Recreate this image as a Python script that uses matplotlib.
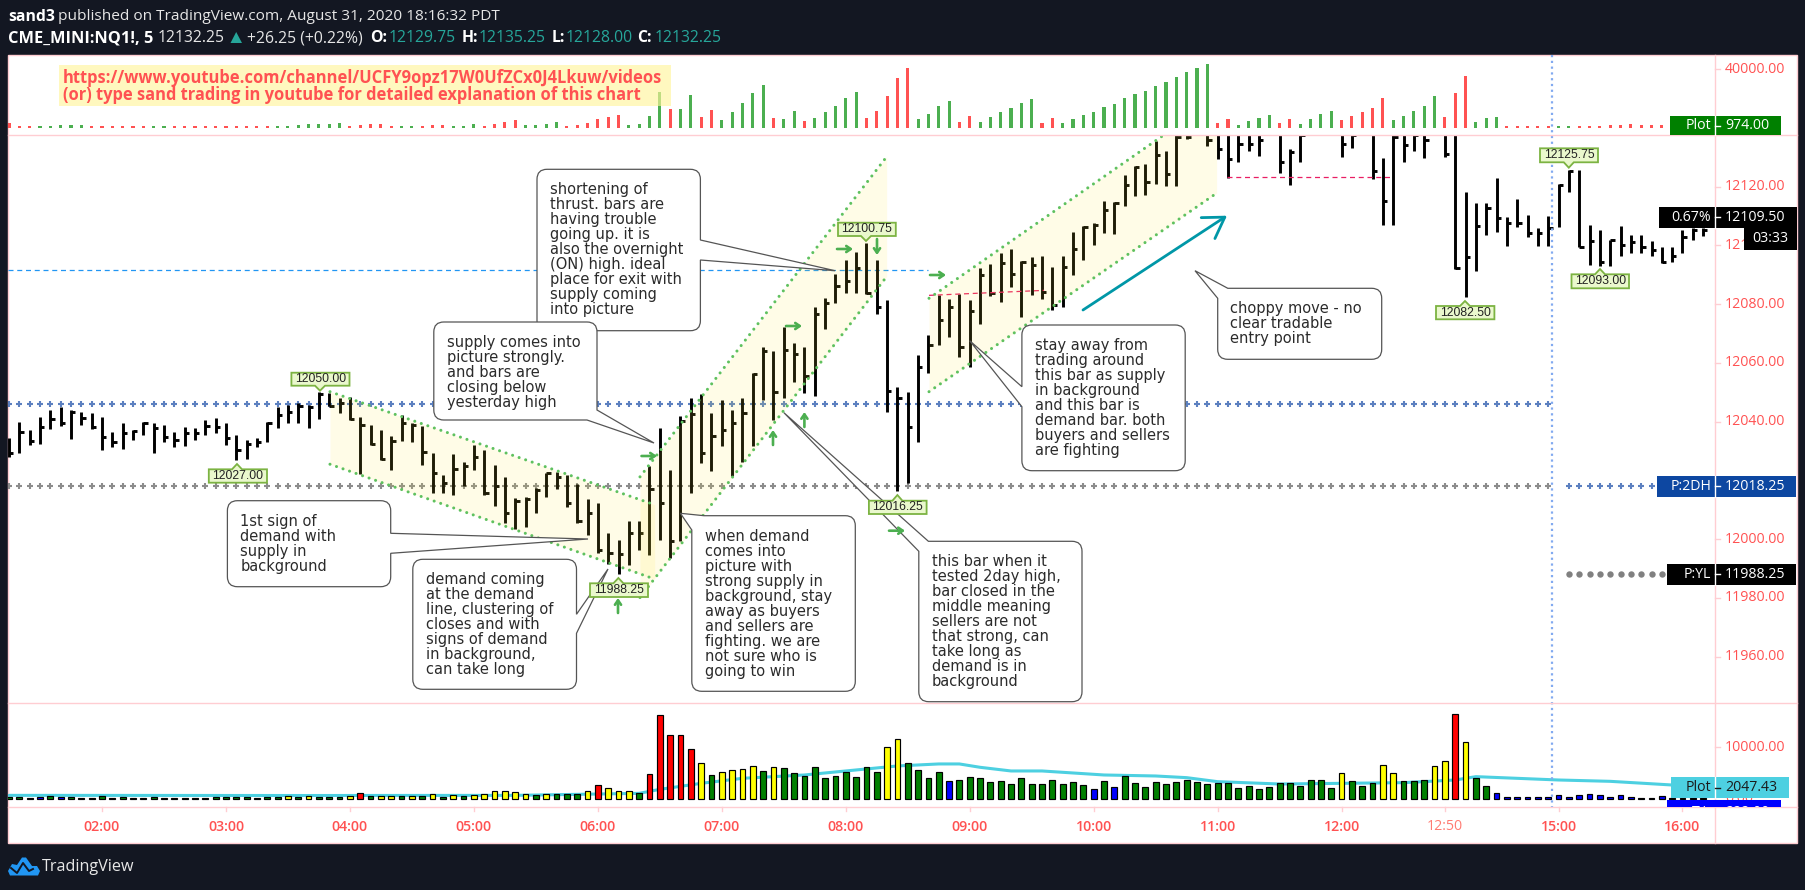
import matplotlib
matplotlib.use("Agg")
import matplotlib.pyplot as plt
from matplotlib.patches import Rectangle, Polygon, PathPatch
from matplotlib.path import Path

W, H = 1805, 890
DARK = "#131722"; PINK = "#ffcdd2"; RED = "#ff5252"; TEAL = "#26a69a"
NUM = "Open Sans"

first_bar = -9
highs = [12034.3,12040.0,12037.2,12041.7,12044,12045.1,12044,12043.4,12042.8,12041.7,
 12036.6,12039.4,12037.2,12040,12039.4,12038.9,12036.6,12038.3,12037.7,12040.6,
 12041.1,12039.7,12035.5,12033.8,12034.3,12040,12045.1,12045.7,12046.3,12045.7,
 12050,12049.75,12048,12048.5,12041.7,12038.9,12037.2,12035.1,12042.1,12039.4,
 12038.6,12029.2,12021.9,12029,12026.4,12032.1,12030.4,12025.3,12021.1,12013.9,
 12014.5,12017.3,12022.6,12023,12021.9,12018.8,12013.6,12012.4,12002,11999.7,
 12006,12006,12024.9,12037.7,12023.6,12041.9,12048,12049.3,12042.8,12047.2,
 12043.8,12048,12056.5,12065.5,12064.2,12072.3,12066.7,12065.3,12078.9,12082.2,
 12090.3,12095,12097.8,12100.75,12095,12081.4,12051.7,12050.2,12062.7,12069.5,
 12083.1,12081.7,12083.5,12081.4,12092.2,12093.6,12097.3,12098.7,12094.7,12096.2,
 12096.5,12092.5,12096.5,12104.7,12106.6,12107.5,12115.2,12114.9,12124,12127,
 12127.6,12135.6,12132.3,12141,12142,12150,12145,12142,12140,12141,
 12143,12142,12150,12141,12132.7,12142,12150,12150,12150,12143,
 12143,12150,12142,12129.6,12137.5,12142,12143,12142,12150,12142,
 12141,12118.3,12114.6,12114.6,12123.1,12109.8,12115.7,12110.3,12105.8,12110,
 12120.9,12125.75,12125.75,12106.9,12105.2,12102,12106.6,12103.7,12103.5,12101.5,
 12099.5,12099.3,12105.2,12105.8,12106]
lows = [12027.9,12029.2,12032.1,12032.4,12037.4,12038.6,12034,12038.9,12037.4,12030.4,
 12031.3,12030.6,12033.8,12035.5,12029.2,12033.2,12031.3,12031.7,12033.8,12035.5,
 12036.3,12032.1,12027,12027.2,12031.3,12032.9,12037.7,12039.7,12039.7,12037.7,
 12040.8,12045.3,12042.8,12040.6,12022.2,12032.1,12027,12023.6,12033.5,12033.2,
 12025.3,12015.6,12015.8,12014.9,12018.1,12023.6,12015,12011.3,12005.6,12003.4,
 12004,12009,12014.3,12017,12011.1,12005.6,12001.4,11995.4,11991.6,11988.25,
 11991.2,11996.3,11994.6,11999.7,11993.6,11999.2,12015.8,12025.8,12023.3,12031.7,
 12021.5,12026.4,12031.7,12047.4,12040.6,12048.2,12053.6,12049.7,12048.7,12071.6,
 12080.5,12083.7,12083.7,12083.4,12076.5,12043.4,12016.25,12019,12032.9,12056.7,
 12066.1,12068.9,12062.1,12058.5,12073.3,12082.9,12080.9,12086,12075.8,12083.1,
 12081.7,12078,12079.2,12089.9,12095,12100.2,12104.1,12103.9,12113.4,12116.9,
 12117.2,12120.9,12120.3,12120.3,12136.1,12139,12133.8,12129.3,12123.1,12128.5,
 12132.2,12130.4,12139,12124.7,12120.7,12128.5,12139,12139,12139,12130.2,
 12133.2,12139,12122.7,12107.1,12107.1,12128.5,12132.2,12129.9,12139,12130,
 12091.9,12082.5,12091.4,12103.6,12104.7,12099.9,12106.4,12102.9,12099.9,12099.9,
 12106.4,12118.3,12099.3,12093.3,12093,12093.1,12096.4,12097.3,12097.3,12096.5,
 12094.1,12094.4,12097.3,12101.8,12103.3]
closes = [12029.2,12036.6,12033.5,12038.3,12040.8,12039.4,12043.4,12041.1,12038.1,12034.9,
 12033.2,12036,12036.9,12039.4,12037.7,12034.9,12033.8,12036,12036.3,12038.5,
 12038.3,12034.3,12030.4,12032.4,12033.2,12039.4,12042.3,12043.4,12045.3,12045.1,
 12049.4,12045.3,12046.5,12040.8,12038.9,12032.4,12027.2,12033.5,12039.4,12038.9,
 12029.5,12022.4,12019,12023.8,12024.9,12028.1,12015.8,12018.1,12009,12013.1,
 12013.6,12016.7,12022.4,12021.3,12012.4,12006.3,12008.8,11996.3,11995.2,11995,
 12002.2,12002.2,12017,12012.2,11999.4,12040.3,12042.6,12029.3,12035.1,12037.2,
 12039.4,12043.1,12056.3,12064.2,12050.2,12064.4,12063,12055.6,12076.7,12080.5,
 12086.2,12088,12092.2,12083.7,12078.9,12050.4,12048,12038.1,12058.5,12066.1,
 12074.6,12078.9,12065.5,12077.8,12089.9,12083.7,12093.9,12090.3,12094.2,12093.3,
 12084.3,12079.7,12092.5,12098.7,12106.4,12107,12112.1,12114.6,12120.6,12126.6,
 12121.7,12130.8,12124.2,12136.8,12137,12141,12136,12133,12129.3,12134.7,
 12134.7,12136,12141,12128.5,12131.9,12137.5,12141,12141,12141,12134.7,
 12137.5,12141,12125.3,12115.1,12137,12134.2,12137.5,12136,12141,12131.1,
 12092.2,12096.1,12106.6,12112.6,12109.2,12107.5,12107.8,12104.1,12104.1,12105.8,
 12120.5,12125.4,12099.5,12101.5,12094.4,12101.8,12100.1,12101.2,12099.5,12098.4,
 12094.4,12096.4,12102.9,12105.2,12105.2]
deltas = [-2760,-460,-460,690,920,1380,1380,1380,-460,-460,
 -920,-460,-460,-460,920,460,-460,-460,-460,-460,
 -460,-460,-460,-1150,-460,-460,920,920,1610,2300,
 2300,2300,2990,-460,-1610,-2300,-2300,-460,920,690,
 -690,-1380,-1380,920,920,2300,-1150,-2300,-3680,-5060,
 1380,1380,2300,3680,-1150,-1840,-2990,-5750,-7360,-8740,
 1610,2300,7820,24380,-12650,12650,22310,-7360,-11960,5060,
 10580,16560,23920,29210,-6440,5520,11270,-4370,6440,10580,
 14720,20240,24380,-6440,-11270,-21620,-34040,-40940,5750,9200,
 14720,18170,-3680,-7820,3680,7130,10580,13340,16790,19550,
 -2990,-6440,2990,5750,8510,10580,14030,16100,20240,23000,
 25070,28520,31280,34730,38180,40940,43700,-2990,-5750,1610,
 4370,6440,8510,-2990,-5750,2300,5750,9200,11270,-5060,
 -7820,-10580,-13340,-20240,5060,7820,11270,14720,21620,-7130,
 -23690,-35420,3680,6440,7130,-460,-690,-690,-460,-460,
 920,690,-920,-920,-1150,-1610,-1840,-2070,-1840,-1840,
 -1840,-1840,-2070,-2070,-974]
volumes = [260,390,195,390,585,325,390,195,195,585,
 195,325,195,195,390,195,195,195,195,195,
 325,325,325,325,195,325,325,585,390,585,
 325,325,325,520,1170,585,520,520,585,585,
 520,975,390,780,520,715,975,1430,1560,1365,
 975,780,975,975,975,975,1560,2730,2145,1560,
 1560,1170,4875,16250,12480,12350,9750,7020,4680,5265,
 5655,5850,6435,5460,6240,6045,5070,4485,6240,4095,
 4485,5265,4290,6240,5265,10140,11700,6890,5525,3965,
 5135,3380,3575,4160,3965,3185,3380,2795,3965,2795,
 2795,3575,2795,3185,2600,1820,3380,2210,4355,2990,
 2210,3185,2795,3185,3575,3185,2795,2990,2990,2015,
 2405,1820,2210,2990,2990,2405,3575,3575,2015,4940,
 3380,2405,2990,6500,4940,3380,3380,3575,6305,7280,
 16445,10985,3965,2405,1040,390,390,390,390,390,
 650,390,780,845,650,390,650,390,195,195,
 455,195,195,195,195]
vol_colors = ("gggbgbgggg" "gggggggggg" "gggggggygy" "gggyrgyygy" "gygygyyyyy"
 "ygygggyryy" "ygrrrrrygy" "yyygyggggg" "gggggyyggg" "gbgggggggg"
 "gggggbgbgg" "gggggggggg" "gggggggggy" "gggyygggyy"
 "ryggbbbbbb" "bbbbbbbbbb" "bbbbb")
vol_palette = {"g": "#008000", "y": "#ffff00", "r": "#ff0000", "b": "#0000ff"}
ma_index = [-9,20,40,46,52,54,58,62,68,77,81,83,85,88,91,97,102,105,108,114,120,126,131,133,141,146,152,155]
ma_value = [650,620,650,845,1040,1820,2990,3965,4615,6370,6760,6760,6110,5395,5395,4615,4420,4095,3315,2860,2990,3120,3640,4290,3640,3380,2665,2470]

price_ticks = [12120,12100,12080,12060,12040,12000,11980,11960]
time_ticks = [0,12,24,36,48,60,72,84,96,108,120,130,141,153]
time_labels = ["02:00","03:00","04:00","05:00","06:00","07:00","08:00","09:00","10:00","11:00","12:00","12:50","15:00","16:00"]
level_2dh_prev, level_2dh, level_yh, level_yl = 12046.1, 12018.25, 12018.25, 11988.25
level_on_high = 12091.5

channel_down = ((22.07, 53.5), (12050.2, 12011.7), (12025.5, 11986.4))
channel_up = ((52.08, 75.96), (12021.2, 12130.2), (11980.1, 12089.4))
channel_up2 = ((80.06, 107.9), (12082, 12150.1), (12050.2, 12117.8))

callouts = [
 (537,169.3,700.4,330.7,"right",(240,260),(835,270.7),
  ["shortening of","thrust. bars are","having trouble","going up. it is","also the overnight","(ON) high. ideal","place for exit with","supply coming","into picture"]),
 (433.8,322,597,420,"br",(410,587),(654,443),
  ["supply comes into","picture strongly.","and bars are","closing below","yesterday high"]),
 (227.4,500.7,390.7,586.7,"right",(533.3,553.3),(588,539),
  ["1st sign of","demand with","supply in","background"]),
 (412.8,559.3,576.5,689.3,"right",(614.3,633.3),(608,569),
  ["demand coming","at the demand","line, clustering of","closes and with","signs of demand","in background,","can take long"]),
 (691.8,515.7,855.3,691.3,"tl",(530,704),(680.4,513.3),
  ["when demand","comes into","picture with","strong supply in","background, stay","away as buyers","and sellers are","fighting. we are","not sure who is","going to win"]),
 (918.8,541.3,1082,701.7,"tl",(551.3,928.4),(783.9,412.7),
  ["this bar when it","tested 2day high,","bar closed in the","middle meaning","sellers are not","that strong, can","take long as","demand is in","background"]),
 (1021.9,325,1185.2,470.7,"left",(386.7,406.7),(969.7,340.7),
  ["stay away from","trading around","this bar as supply","in background","and this bar is","demand bar. both","buyers and sellers","are fighting"]),
 (1217.7,288.3,1381.7,359.3,"tl",(298.3,1227.8),(1195,270.7),
  ["choppy move - no","clear tradable","entry point"]),
]
price_tags = [("12050.00",291.4,349.5,372.7,385.7,320,390.7),("12027.00",208.8,267,469.3,482.7,237,464),
 ("11988.25",590,648,583.3,597,618.4,578),("12100.75",838,895.8,222.7,236,866,241),
 ("12016.25",868.9,926.6,500.7,514,897.4,495),("12125.75",1540,1598,148.3,162.3,1568.8,167.7),
 ("12093.00",1571.5,1629,274.3,288.3,1600,269),("12082.50",1436,1494.4,306,319.3,1465,301)]
green_arrows = [(641.5,456,657,456),(837,249,853,249),(786,326,802,326),(930,275,946,275),(889,530.7,905,530.7),
 (773,445,773,430),(804.4,427,804.4,412),(618,613,618,598),(877,239,877,255)]

fig = plt.figure(figsize=(W/100, H/100), dpi=100, facecolor=DARK)

def pane(top, bottom, z=1, right=1714.6, left=8):
    return fig.add_axes([left/W, 1-bottom/H, (right-left)/W, (bottom-top)/H], zorder=z)

bg = fig.add_axes([0,0,1,1], zorder=0); bg.set_xlim(0,W); bg.set_ylim(H,0); bg.axis("off")
bg.add_patch(Rectangle((8,55),1789,788,fc="white",ec=PINK,lw=1))

idx = list(range(first_bar, first_bar+len(highs)))
XLIM = ((8-102)/10.33, (1714.6-102)/10.33)

ax_top = pane(55,135); ax_main = pane(135,703); ax_vol = pane(703,807)
for a in (ax_top,ax_main,ax_vol):
    a.set_xlim(*XLIM); a.patch.set_alpha(0)
    a.set_xticks([]); a.set_yticks([])
    for s in a.spines.values(): s.set_visible(False)
ax_top.set_ylim(-5310,49862)
ax_main.set_ylim(11944.2,12137.6)
ax_vol.set_ylim(-1615,18619)

# top histogram: tiny bars keep a visible minimum height, as the reference does
ax_top.bar(idx,[max(abs(d),1000)+500 for d in deltas],bottom=-500,width=0.3,
           color=["#4caf50" if d>0 else RED for d in deltas],linewidth=0)

# price bars (high / low / close)
ax_main.vlines(idx,lows,highs,color="black",lw=2.1,zorder=3)
ax_main.hlines(closes,idx,[i+0.42 for i in idx],color="black",lw=2.1,zorder=3)

# levels
left_pts = list(range(-9,141))
ax_main.plot(left_pts,[level_2dh_prev]*len(left_pts),ls="",marker="+",ms=5,mew=1.5,color="#5c80c0",zorder=2)
ax_main.plot(left_pts,[level_yh]*len(left_pts),ls="",marker="+",ms=5,mew=1.5,color="#8c8c8c",zorder=2)
ax_main.plot(range(142,151),[level_2dh]*9,ls="",marker="+",ms=5,mew=1.5,color="#5c80c0",zorder=2)
ax_main.plot(range(142,152),[level_yl]*10,ls="",marker="o",ms=4.6,mew=0,color="#808080",zorder=2)
ax_main.plot([XLIM[0],80],[level_on_high]*2,color="#2196f3",lw=0.9,dashes=(4,3),zorder=2)
ax_main.plot([80.06,91.2],[12083,12084.7],color="#e91e63",lw=0.9,dashes=(4,3),zorder=4)
ax_main.plot([108.9,125],[12123.2,12123.2],color="#e91e63",lw=0.9,dashes=(4,3),zorder=4)

# channels
for xs,top,bot in (channel_down,channel_up,channel_up2):
    ax_main.fill_between(xs,bot,top,color="#ffeb3b",alpha=0.12,lw=0,zorder=5)
    for ys in (top,bot):
        ax_main.plot(xs,ys,color="#5fc15f",lw=2.2,dashes=(0.01,2.25),dash_capstyle="round",zorder=6)

# volume
ax_vol.plot(ma_index,ma_value,color="#4dd0e1",lw=2.2,zorder=1,solid_capstyle="round")
ax_vol.bar(idx,volumes,width=0.56,color=[vol_palette[c] for c in vol_colors],edgecolor="black",linewidth=0.85,zorder=2)

# overlay in pixel space for annotations
ov = fig.add_axes([0,0,1,1], zorder=5); ov.set_xlim(0,W); ov.set_ylim(H,0); ov.axis("off"); ov.patch.set_alpha(0)

ov.plot([1552,1552],[55,807],color="#82aaf0",lw=1.6,dashes=(1,1.6),zorder=1)
for y in (135,703,807):
    ov.plot([8,1797],[y,y],color=PINK,lw=1,zorder=1)
ov.plot([1714.6,1714.6],[55,843],color=PINK,lw=1,zorder=1)

def ty(p): return 186.7+(12120-p)*2.9375
for p in price_ticks:
    ov.plot([1714.6,1720],[ty(p)]*2,color=PINK,lw=1,zorder=1)
    ov.text(1725,ty(p),f"{p:.2f}",color=RED,fontsize=10.2,family=NUM,va="center",ha="left",zorder=2)
for lab,y in (("40000.00",69.3),("10000.00",747.3)):
    ov.plot([1714.6,1720],[y,y],color=PINK,lw=1,zorder=1)
    ov.text(1725,y,lab,color=RED,fontsize=10.2,family=NUM,va="center",zorder=2)
ov.text(1725,798,"0.00",color=RED,fontsize=10.2,family=NUM,va="center",zorder=2)
for t,lab in zip(time_ticks,time_labels):
    x=102+10.33*t
    ov.plot([x,x],[807,811],color=PINK,lw=1,zorder=1)
    c = "#ff7b72" if lab=="12:50" else RED
    ov.text(x,826.7,lab,color=c,fontsize=10.2,family=NUM,ha="center",va="center",fontweight="semibold" if lab!="12:50" else "normal")

# callouts
def callout(x0,y0,x1,y1,kind,base,tip,lines,r=10):
    M,L,C,Z=Path.MOVETO,Path.LINETO,Path.CURVE3,Path.CLOSEPOLY
    v=[];c=[]
    def add(p,code): v.append(p);c.append(code)
    if kind=="tl":
        add((base[1],y0),M)
    else:
        add((x0+r,y0),M)
    add((x1-r,y0),L); add((x1,y0),C); add((x1,y0+r),C)
    if kind=="right":
        add((x1,base[0]),L); add(tip,L); add((x1,base[1]),L)
    if kind=="br":
        add((x1,base[0]),L); add(tip,L); add((base[1],y1),L)
    else:
        add((x1,y1-r),L); add((x1,y1),C); add((x1-r,y1),C)
    add((x0+r,y1),L); add((x0,y1),C); add((x0,y1-r),C)
    if kind=="left":
        add((x0,base[1]),L); add(tip,L); add((x0,base[0]),L)
    if kind=="tl":
        add((x0,base[0]),L); add(tip,L); add((base[1],y0),L)
    else:
        add((x0,y0+r),L); add((x0,y0),C); add((x0+r,y0),C)
    add(v[0],Z)
    ov.add_patch(PathPatch(Path(v,c),fc="white",ec="#555555",lw=0.9,zorder=4))
    for k,t in enumerate(lines):
        ov.text(x0+12.8,y0+20.5+15*k,t,color="#2b2b2b",fontsize=10.5,family="DejaVu Sans",va="center",ha="left",zorder=5)
for b in callouts:
    callout(*b)

# price tags
for lab,x0,x1,y0,y1,tx,tyy in price_tags:
    if tyy>y1:
        pts=[(x0,y0),(x1,y0),(x1,y1),(tx+5,y1),(tx,tyy),(tx-5,y1),(x0,y1)]
    else:
        pts=[(x0,y0),(tx-5,y0),(tx,tyy),(tx+5,y0),(x1,y0),(x1,y1),(x0,y1)]
    ov.add_patch(Polygon(pts,closed=True,fc="#eaf8cd",ec="#7cb342",lw=1.3,zorder=6))
    ov.text((x0+x1)/2,(y0+y1)/2,lab,color="#222222",fontsize=8.7,family="Liberation Sans",ha="center",va="center",zorder=7)

# arrows
for x0,y0,x1,y1 in green_arrows:
    ov.annotate("",xy=(x1,y1),xytext=(x0,y0),zorder=7,
                arrowprops=dict(arrowstyle="->,head_length=0.32,head_width=0.22",color="#4caf50",lw=1.9,shrinkA=0,shrinkB=0,mutation_scale=10))
ov.annotate("",xy=(1227,215.7),xytext=(1083,310),zorder=3,
            arrowprops=dict(arrowstyle="->,head_length=0.8,head_width=0.5",color="#0097a7",lw=2,shrinkA=0,shrinkB=0,mutation_scale=18))

# note on top
ov.add_patch(Rectangle((59,65),611.5,41,fc="#fff59d",alpha=0.65,lw=0,zorder=3))
ov.text(63,78,"https://www.youtube.com/channel/UCFY9opz17W0UfZCx0J4Lkuw/videos",color=RED,fontsize=11.9,family="Open Sans",fontweight="bold",va="center",zorder=4)
ov.text(63,95.5,"(or) type sand trading in youtube for detailed explanation of this chart",color=RED,fontsize=11.9,family="Open Sans",fontweight="bold",va="center",zorder=4)

# value labels on the right
def vlabel(x0,x1,y0,y1,fc,left,right,tc="white"):
    ov.add_patch(Rectangle((x0,y0),x1-x0,y1-y0,fc=fc,lw=0,zorder=8))
    ov.plot([1714.6,1714.6],[y0,y1],color="white",lw=1,zorder=9)
    ov.plot([1714.6,1720],[(y0+y1)/2]*2,color=tc,lw=1,zorder=9)
    ov.text(1711,(y0+y1)/2,left,color=tc,fontsize=10.2,family=NUM,ha="right",va="center",zorder=9)
    ov.text(1725,(y0+y1)/2,right,color=tc,fontsize=10.2,family=NUM,ha="left",va="center",zorder=9)
vlabel(1670,1780.6,116,135,"#008000","Plot","974.00")
vlabel(1659,1797,206.7,227.7,"#000000","0.67%","12109.50")
ov.add_patch(Rectangle((1744,228),53,22,fc="black",lw=0,zorder=8))
ov.text(1770.5,239,"03:33",color="white",fontsize=10.2,family=NUM,ha="center",va="center",zorder=9)
vlabel(1656.7,1796,476,496.7,"#0d47a1","P:2DH","12018.25")
vlabel(1667,1796,564,584.7,"#000000","P:YL","11988.25")
# clipped T:L label
clip = Rectangle((8,703),1789,104,transform=ov.transData)
r = Rectangle((1666.5,800),114,14,fc="#0000ff",lw=0,zorder=8); ov.add_patch(r); r.set_clip_path(clip)
for tx,s,ha in ((1711,"T:L","right"),(1725,"222.00","left")):
    t=ov.text(tx,812,s,color="white",fontsize=10.2,family=NUM,ha=ha,va="center",zorder=9); t.set_clip_path(clip); t.set_clip_on(True)
vlabel(1670.5,1789,777,798,"#4dd0e1","Plot","2047.43",tc="#1a1a1a")

# header
ov.text(8,17,"sand3",color="white",fontsize=11.3,family=NUM,fontweight="bold",va="center")
ov.text(57.7,17,"published on TradingView.com, August 31, 2020 18:16:32 PDT",color="#e6e6e6",fontsize=11.1,family=NUM,va="center")
parts = [(8,"CME_MINI:NQ1!, 5","white","bold",11.8),(158,"12132.25","#e6e6e6","normal",11.3),(247,"+26.25 (+0.22%)","#e6e6e6","normal",11.3),
 (370.5,"O:","white","bold",11.3),(388.7,"12129.75",TEAL,"normal",11.3),(461.4,"H:","white","bold",11.3),(478.5,"12135.25",TEAL,"normal",11.3),
 (551.6,"L:","white","bold",11.3),(565.4,"12128.00",TEAL,"normal",11.3),(637,"C:","white","bold",11.3),(655,"12132.25",TEAL,"normal",11.3)]
for x,s,c,w,fs in parts:
    ov.text(x,38.5,s,color=c,fontsize=fs,family=NUM,fontweight=w,va="center")
ov.add_patch(Polygon([(230.5,43),(242,43),(236.2,32)],closed=True,fc=TEAL,lw=0))

# logo
ov.add_patch(Polygon([(8,871),(12,864),(17,865),(22,857.5),(26,857.5),(32,866),(37,866),(40,871),(38,875.5),(10,875.5)],closed=True,fc="#2196f3",lw=0))
ov.plot([11,17,23,29,33],[868,873,863,871,869],color=DARK,lw=1.4)
ov.text(42,866.7,"TradingView",color="#e8e8e8",fontsize=11.6,family="Open Sans",va="center")

fig.savefig("out.png",dpi=100,facecolor=DARK)
